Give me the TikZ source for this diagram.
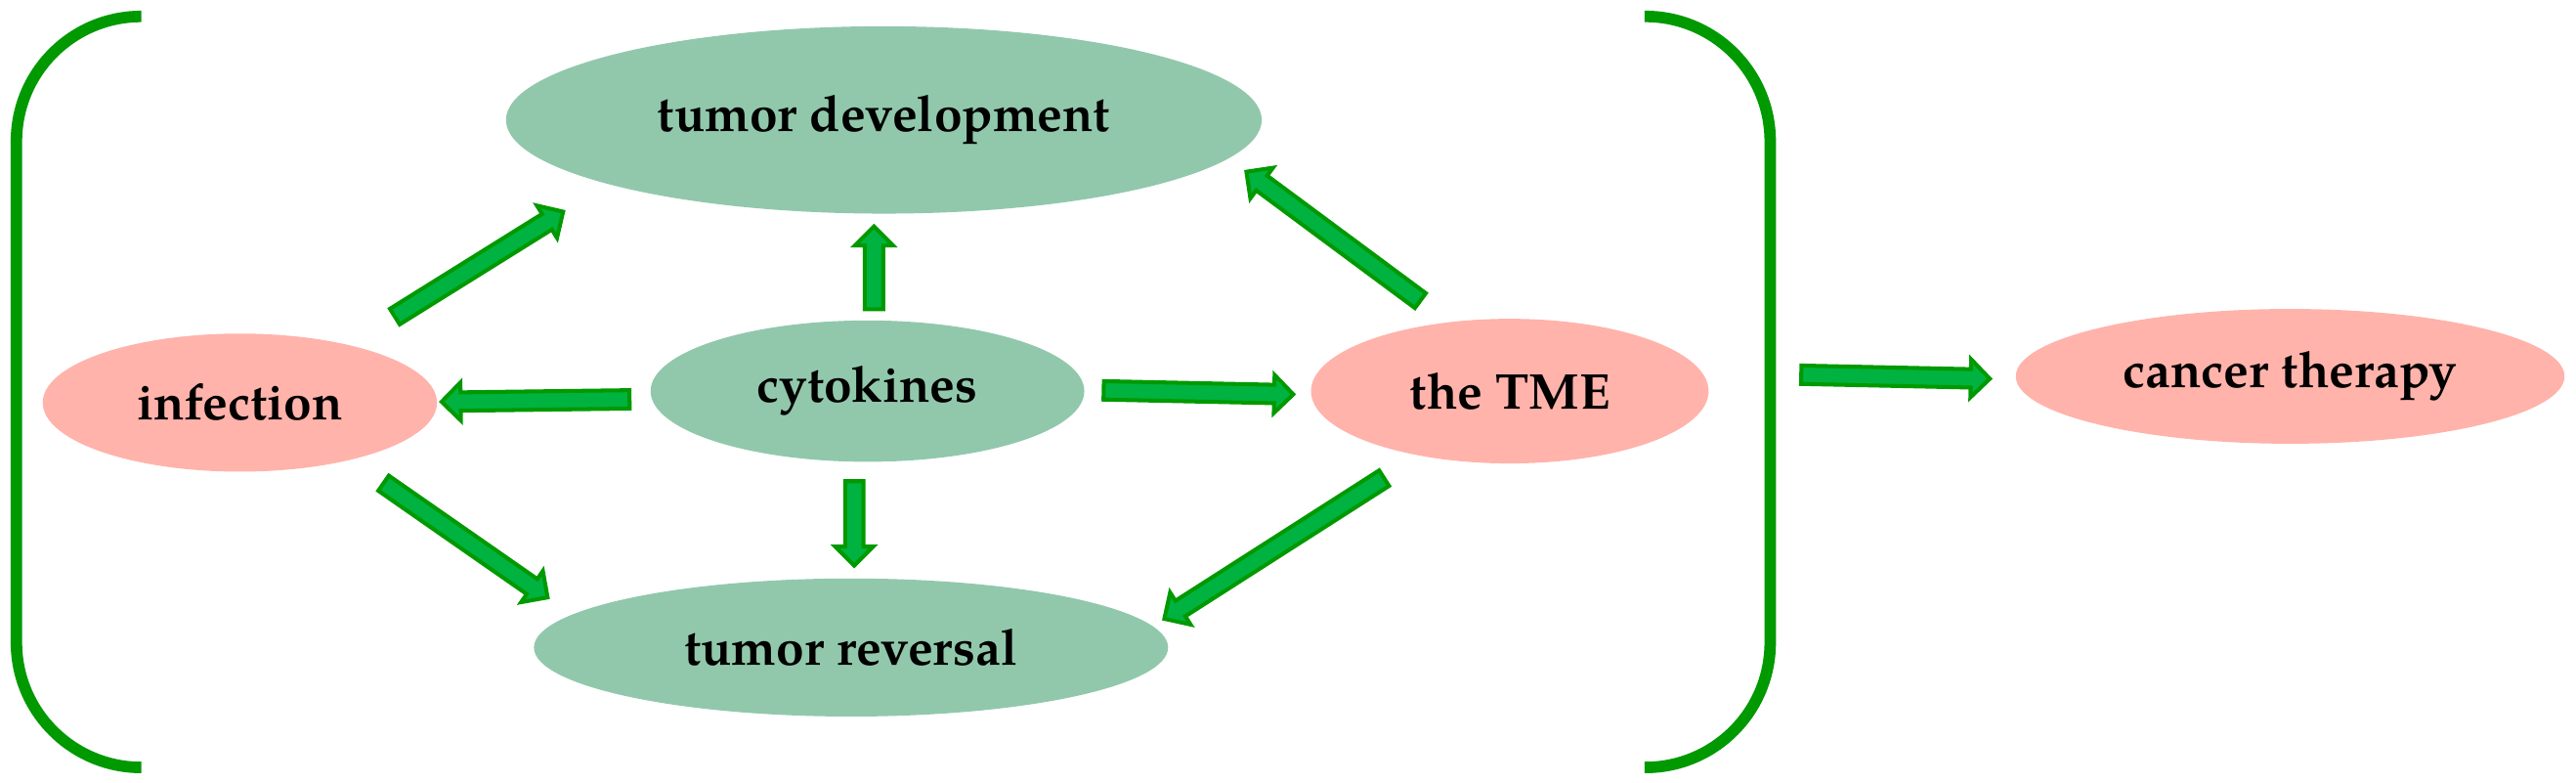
\documentclass[tikz,border=0pt]{standalone}
\usepackage{fontspec}
\setmainfont{texgyrepagella}[Extension=.otf, UprightFont=*-regular, BoldFont=*-bold]
\usetikzlibrary{shapes.arrows,shapes.geometric,calc}
\definecolor{ellgreen}{RGB}{145,200,172}
\definecolor{ellpink}{RGB}{255,179,171}
\definecolor{brgreen}{RGB}{0,153,0}
\definecolor{arfill}{RGB}{0,178,64}
\tikzset{
  ell/.style={ellipse, inner sep=0pt, font=\fontsize{15.3}{18}\selectfont\bfseries},
  ellg/.style={ell, fill=ellgreen},
  ellp/.style={ell, fill=ellpink},
  bracketline/.style={draw=brgreen, line width=3.5pt, rounded corners=38pt},
  fatarrow/.style={single arrow, draw=brgreen, fill=arfill, line width=1.2pt,
    minimum width=10.4pt, single arrow head extend=3pt, single arrow tip angle=90,
    inner xsep=0pt, inner ysep=2.2pt},
}
\newcommand\fatarr[2]{%
  \path let \p1=($(#2)-(#1)$), \n1={atan2(\y1,\x1)}, \n2={veclen(\x1,\y1)-1.3pt} in
    node[fatarrow, minimum height=\n2, rotate=\n1, anchor=tail] at ($(#1)!0.3pt!(#2)$) {};%
}
\begin{document}
\begin{tikzpicture}[x=0.5pt, y=-0.5pt]
\useasboundingbox (0,0) rectangle (1568,476.46);
% brackets
\draw[bracketline] (86,10) -- (10,10) -- (10,467) -- (86,467);
\draw[bracketline] (1001,10) -- (1077.5,10) -- (1077.5,467) -- (1001,467);
% ellipses
\node[ellg, minimum width=460pt/2, minimum height=114pt/2] (dev) at (538,73) {tumor development};
\node[ellp, minimum width=240pt/2, minimum height=84pt/2] (inf) at (146,245) {infection};
\node[ellg, minimum width=264pt/2, minimum height=86pt/2] (cyt) at (528,238) {cytokines};
\node[ellp, minimum width=242pt/2, minimum height=88pt/2] (tme) at (919,238) {the TME};
\node[ellg, minimum width=386pt/2, minimum height=84pt/2] (rev) at (518,394) {tumor reversal};
\node[ellp, minimum width=334pt/2, minimum height=82pt/2] (ther) at (1394,229) {cancer therapy};
% arrow end points
\coordinate (a1s) at (238.8,193.6); \coordinate (a1e) at (343.6,128.3);
\coordinate (a2s) at (532,190);     \coordinate (a2e) at (532,137);
\coordinate (a3s) at (866,184);     \coordinate (a3e) at (758,104);
\coordinate (a4s) at (385,243);     \coordinate (a4e) at (268,244.5);
\coordinate (a5s) at (670,237.5);   \coordinate (a5e) at (788,240);
\coordinate (a6s) at (520,291);     \coordinate (a6e) at (520,345);
\coordinate (a7s) at (232,293);     \coordinate (a7e) at (334,364);
\coordinate (a8s) at (844,290);     \coordinate (a8e) at (708,377);
\coordinate (a9s) at (1094.6,228);  \coordinate (a9e) at (1212,230.5);
\fatarr{a1s}{a1e}
\fatarr{a2s}{a2e}
\fatarr{a3s}{a3e}
\fatarr{a4s}{a4e}
\fatarr{a5s}{a5e}
\fatarr{a6s}{a6e}
\fatarr{a7s}{a7e}
\fatarr{a8s}{a8e}
\fatarr{a9s}{a9e}
\end{tikzpicture}
\end{document}
